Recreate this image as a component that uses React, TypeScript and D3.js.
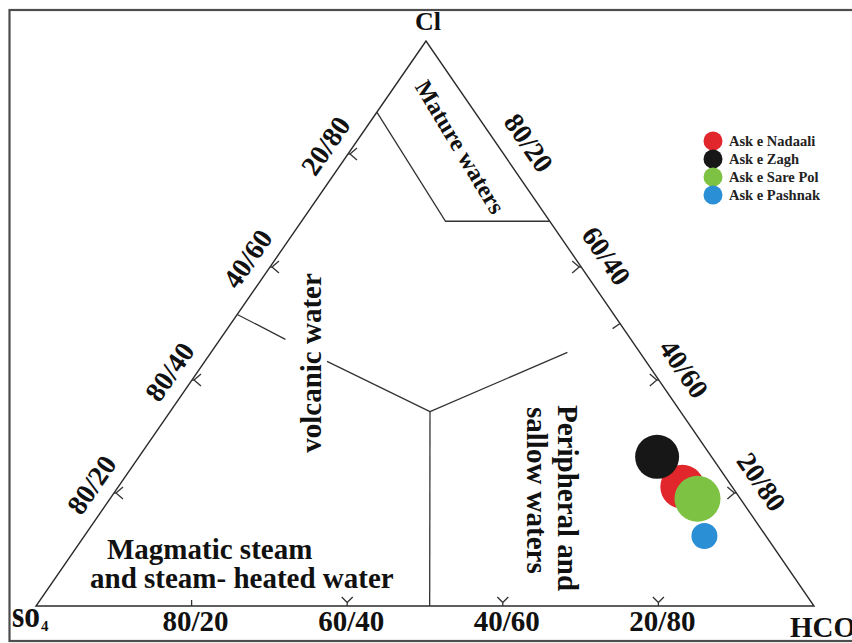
import React from "react";
import * as d3 from "d3";

// samples and their composition, % of Cl / SO4 / HCO3
const samples = ["Ask e Nadaali", "Ask e Zagh", "Ask e Sare Pol", "Ask e Pashnak"];
const clPct = [21.1, 26.4, 19.0, 12.4];
const so4Pct = [6.4, 7.0, 5.5, 7.9];
const hco3Pct = [72.5, 66.6, 75.5, 79.7];
const colors = ["#e1262c", "#171717", "#7dc243", "#2b8fd5"];
const radii = [22, 22, 23, 13];

// tick labels along each edge
const tickSteps = [20, 40, 60, 80];
const bottomLabels = ["80/20", "60/40", "40/60", "20/80"];
const leftLabels = ["80/20", "80/40", "40/60", "20/80"];
const rightLabels = ["80/20", "60/40", "40/60", "20/80"];

// field boundaries, [Cl, SO4, HCO3] %
const matureLine = [[87.4, 12.6, 0], [68.1, 13.4, 18.5], [68.1, 0, 31.9]];
const volcanicLineA = [[51.6, 48.4, 0], [47.2, 44.4, 8.4]];
const volcanicLineB = [[43.3, 41.0, 15.7], [34.4, 32.2, 33.4]];
const centerDown = [[34.4, 32.2, 33.4], [0, 49.4, 50.6]];
const centerRight = [[34.4, 32.2, 33.4], [44.9, 9.3, 45.8]];

const SERIF = '"Liberation Serif", "Times New Roman", serif';

export default function App() {
    const ref = React.useRef(null);

    React.useEffect(() => {
        const width = 852;
        const height = 643;
        const apexX = 426;

        // HCO3 share along the base, Cl share upwards
        const x = d3.scaleLinear().domain([0, 100]).range([36, 814]);
        const y = d3.scaleLinear().domain([0, 100]).range([606, 41]);
        const project = ([c, s, h]) => [x(h) + ((apexX - x(0)) * c) / 100, y(c)];

        const svg = d3
            .select(ref.current)
            .attr("width", width)
            .attr("height", height)
            .attr("viewBox", [0, 0, width, height]);
        svg.selectAll("*").remove();

        svg.append("rect").attr("width", width).attr("height", height).attr("fill", "#fff");

        // outer frame
        svg.append("rect")
            .attr("x", 9.5)
            .attr("y", 10)
            .attr("width", 900)
            .attr("height", 631)
            .attr("fill", "none")
            .attr("stroke", "#4d4d4d")
            .attr("stroke-width", 2.2);

        const line = d3.line().x((d) => project(d)[0]).y((d) => project(d)[1]);

        const A = project([100, 0, 0]); // Cl
        const B = project([0, 100, 0]); // SO4
        const C = project([0, 0, 100]); // HCO3

        svg.append("path")
            .attr("d", line([[100, 0, 0], [0, 100, 0], [0, 0, 100]]) + "Z")
            .attr("fill", "none")
            .attr("stroke", "#2b2b2b")
            .attr("stroke-width", 1.4);

        // boundaries
        svg.append("g")
            .attr("fill", "none")
            .attr("stroke", "#333")
            .attr("stroke-width", 1.3)
            .selectAll("path")
            .data([matureLine, volcanicLineA, volcanicLineB, centerDown, centerRight])
            .join("path")
            .attr("d", (d) => line(d));

        // ticks
        const ticks = svg.append("g").attr("fill", "none").attr("stroke", "#333").attr("stroke-width", 1.3);
        const yTick = (p, u, stem, len, spread) => {
            const v = [-u[1], u[0]];
            const a = [p[0] + u[0] * stem, p[1] + u[1] * stem];
            const e1 = [p[0] + u[0] * len + v[0] * spread, p[1] + u[1] * len + v[1] * spread];
            const e2 = [p[0] + u[0] * len - v[0] * spread, p[1] + u[1] * len - v[1] * spread];
            ticks.append("path").attr("d", `M${p}L${a}M${e1}L${a}L${e2}`);
        };
        const plainTick = (p, u, len) => {
            ticks.append("path").attr("d", `M${p}L${p[0] + u[0] * len},${p[1] + u[1] * len}`);
        };

        // bottom edge: SO4 -> HCO3
        tickSteps.forEach((t) => {
            const p = project([0, 100 - t, t]);
            if (t === 20) plainTick(p, [0, -1], 6);
            else yTick(p, [0, -1], 3.5, 9, 5.5);
        });
        // left edge: SO4 -> Cl
        tickSteps.forEach((t) => {
            yTick(project([t, 100 - t, 0]), [1, 0], 2, 9, 6);
        });
        // right edge: Cl -> HCO3
        const rdx = C[0] - A[0];
        const rdy = C[1] - A[1];
        const rlen = Math.hypot(rdx, rdy);
        const rightIn = [-rdy / rlen, rdx / rlen];
        tickSteps.forEach((t) => {
            if (t === 20) return;
            yTick(project([100 - t, 0, t]), [-1, 0], 2, 9, 6);
        });
        plainTick(project([50, 0, 50]), rightIn, 9);

        // edge labels
        const labels = svg
            .append("g")
            .attr("font-family", SERIF)
            .attr("font-weight", "bold")
            .attr("fill", "#111");

        labels.selectAll(".bl")
            .data(tickSteps)
            .join("text")
            .attr("x", (t) => project([0, 100 - t, t])[0] + 4)
            .attr("y", 631)
            .attr("font-size", 29)
            .attr("text-anchor", "middle")
            .text((t, i) => bottomLabels[i]);

        const ldx = A[0] - B[0];
        const ldy = A[1] - B[1];
        const llen = Math.hypot(ldx, ldy);
        const lDir = [ldx / llen, ldy / llen];
        const lOut = [lDir[1], -lDir[0]];
        const lAngle = (Math.atan2(ldy, ldx) * 180) / Math.PI;
        labels.selectAll(".ll")
            .data(tickSteps)
            .join("text")
            .attr("transform", (t) => {
                const p = project([t, 100 - t, 0]);
                const cx = p[0] + lOut[0] * 23 - lDir[0] * 6;
                const cy = p[1] + lOut[1] * 23 - lDir[1] * 6;
                return `translate(${cx},${cy}) rotate(${lAngle})`;
            })
            .attr("font-size", 28)
            .attr("text-anchor", "middle")
            .attr("dominant-baseline", "central")
            .text((t, i) => leftLabels[i]);

        const rDir = [rdx / rlen, rdy / rlen];
        const rOut = [rDir[1], -rDir[0]];
        const rAngle = (Math.atan2(rdy, rdx) * 180) / Math.PI;
        labels.selectAll(".rl")
            .data(tickSteps)
            .join("text")
            .attr("transform", (t) => {
                const p = project([100 - t, 0, t]);
                const cx = p[0] + rOut[0] * 27 + rDir[0] * 5;
                const cy = p[1] + rOut[1] * 27 + rDir[1] * 5;
                return `translate(${cx},${cy}) rotate(${rAngle})`;
            })
            .attr("font-size", 28)
            .attr("text-anchor", "middle")
            .attr("dominant-baseline", "central")
            .text((t, i) => rightLabels[i]);

        // vertex labels
        labels.append("text")
            .attr("x", A[0] + 2)
            .attr("y", 30)
            .attr("font-size", 26)
            .attr("text-anchor", "middle")
            .text("Cl");
        const so = labels.append("text").attr("x", 12).attr("y", 627);
        so.append("tspan").attr("font-size", 38).attr("textLength", 28).attr("lengthAdjust", "spacingAndGlyphs").text("so");
        so.append("tspan").attr("font-size", 15).attr("dy", 4).attr("dx", 1).text("4");
        const hco = labels.append("text").attr("x", 790).attr("y", 637);
        hco.append("tspan").attr("font-size", 29).text("HCO");
        hco.append("tspan").attr("font-size", 16).attr("dy", 5).text("3");

        // field names
        labels.append("text")
            .attr("transform", "translate(460,147) rotate(59)")
            .attr("font-size", 24)
            .attr("text-anchor", "middle")
            .attr("dominant-baseline", "central")
            .text("Mature waters");
        labels.append("text")
            .attr("transform", "translate(311,363) rotate(-90)")
            .attr("font-size", 29)
            .attr("text-anchor", "middle")
            .attr("dominant-baseline", "central")
            .text("volcanic water");
        labels.append("text")
            .attr("transform", "translate(558,405) rotate(90)")
            .attr("font-size", 29)
            .text("Peripheral and");
        labels.append("text")
            .attr("transform", "translate(527,407) rotate(90)")
            .attr("font-size", 29)
            .text("sallow waters");
        labels.append("text").attr("x", 107).attr("y", 559).attr("font-size", 29).text("Magmatic steam");
        labels.append("text").attr("x", 90).attr("y", 588).attr("font-size", 29).text("and steam- heated water");

        // samples
        svg.append("g")
            .selectAll("circle")
            .data(samples)
            .join("circle")
            .attr("cx", (d, i) => project([clPct[i], so4Pct[i], hco3Pct[i]])[0])
            .attr("cy", (d, i) => project([clPct[i], so4Pct[i], hco3Pct[i]])[1])
            .attr("r", (d, i) => radii[i])
            .attr("fill", (d, i) => colors[i]);

        // legend
        const legend = svg.append("g").attr("transform", "translate(713,141)");
        const item = legend
            .selectAll("g")
            .data(samples)
            .join("g")
            .attr("transform", (d, i) => `translate(0,${i * 18})`);
        item.append("circle").attr("r", 9.5).attr("fill", (d, i) => colors[i]);
        item.append("text")
            .attr("x", 16)
            .attr("y", 5)
            .attr("font-family", SERIF)
            .attr("font-weight", "bold")
            .attr("font-size", 14.5)
            .attr("fill", "#222")
            .text((d) => d);
    }, []);

    return <svg ref={ref} style={{ position: "absolute", left: 0, top: 0, display: "block" }}></svg>;
}
